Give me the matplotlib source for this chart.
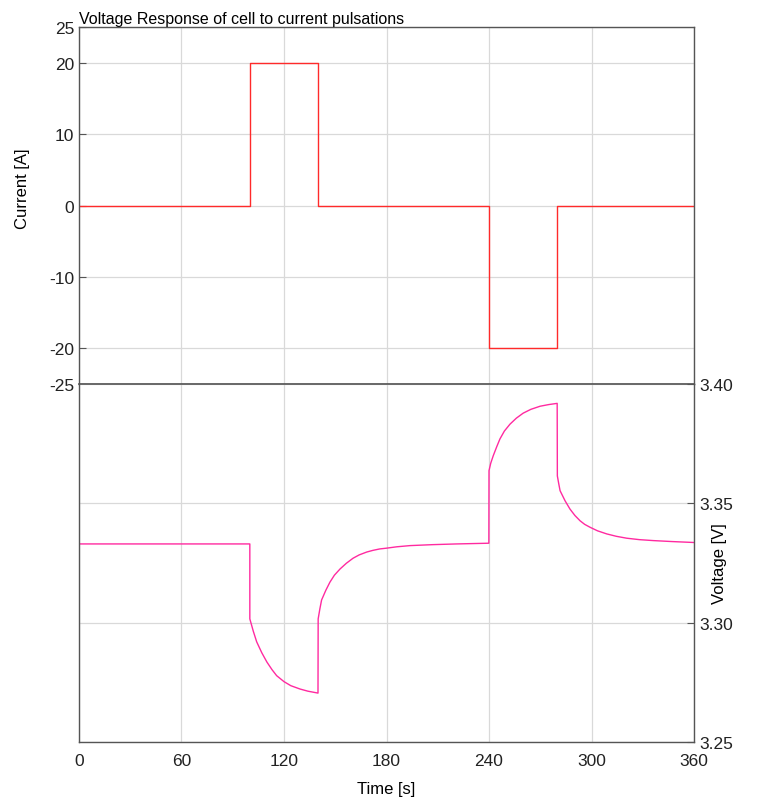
#!/usr/bin/env python3
"""Voltage response of a cell to current pulsations (two stacked panels)."""

import matplotlib

matplotlib.use("Agg")
import matplotlib.pyplot as plt

plt.rcParams["font.family"] = ["Liberation Sans", "DejaVu Sans"]

# Current profile (step pulses)
CUR_T = [0, 100, 100, 140, 140, 240, 240, 280, 280, 360]
CUR_A = [0, 0, 20, 20, 0, 0, -20, -20, 0, 0]

# Voltage response
VOLT_T = [0, 100, 100, 102, 104, 107, 110, 113, 115.7, 120, 124, 129.4, 134, 139.9,
          140, 141, 142, 144.5, 146.9, 149.5, 152.8, 156.5, 160.4, 164, 168.4, 172,
          176, 179.7, 186, 193.8, 207, 221, 239.9,
          240, 241, 242.5, 244.5, 246.4, 249, 252.3, 256, 260, 264.5, 269.9, 275, 279.9,
          280, 280.8, 281.6, 284.5, 287.4, 290.3, 293.3, 296, 299.1, 303.5, 308.9,
          314.5, 320.6, 328, 336.2, 347, 360]
VOLT_V = [3.333, 3.333, 3.3016, 3.2965, 3.292, 3.2874, 3.2835, 3.2803, 3.2778, 3.2753,
          3.2736, 3.2722, 3.2713, 3.2705,
          3.3016, 3.3058, 3.3095, 3.3136, 3.3170, 3.3199, 3.3225, 3.3249, 3.3270, 3.3284,
          3.3296, 3.3303, 3.3309, 3.3312, 3.3318, 3.3323, 3.3327, 3.3330, 3.3333,
          3.3637, 3.3668, 3.3700, 3.3737, 3.3770, 3.3803, 3.3832, 3.3857, 3.3878, 3.3894,
          3.3907, 3.3914, 3.3919,
          3.3615, 3.3583, 3.3553, 3.3511, 3.3476, 3.3449, 3.3427, 3.3412, 3.3400, 3.3385,
          3.3372, 3.3362, 3.3354, 3.3348, 3.3344, 3.3340, 3.3336]

X_TICKS = [0, 60, 120, 180, 240, 300, 360]
CUR_TICKS = [-25, -20, -10, 0, 10, 20, 25]
VOLT_TICKS = [3.25, 3.30, 3.35, 3.40]

GRID = "#d9d9d9"
FRAME = "#555555"


def style(ax):
    for s in ax.spines.values():
        s.set_color(FRAME)
        s.set_linewidth(1.0)
    ax.grid(True, color=GRID, linewidth=0.9)
    ax.set_axisbelow(True)
    ax.tick_params(direction="in", length=5, color=FRAME, labelsize=12.5,
                   labelcolor="#222222")


fig = plt.figure(figsize=(7.82, 8.03), dpi=100)
ax_top = fig.add_axes([0.101, 0.5205, 0.7865, 0.4445])
ax_bot = fig.add_axes([0.101, 0.0747, 0.7865, 0.4458], sharex=ax_top)

# ── Top: current ─────────────────────────────────────────────
ax_top.plot(CUR_T, CUR_A, color="#ff2a2a", linewidth=1.0)
ax_top.set_xlim(0, 360)
ax_top.set_ylim(-25, 25)
ax_top.set_xticks(X_TICKS)
ax_top.set_yticks(CUR_TICKS)
ax_top.set_yticklabels(["-25", "-20", "-10", "0", "10", "20", "25"])
style(ax_top)
ax_top.tick_params(axis="x", labelbottom=False, length=0)
ax_top.set_ylabel("Current [A]", fontsize=12)
ax_top.yaxis.set_label_coords(-0.08, 0.55)
ax_top.set_title("Voltage Response of cell to current pulsations",
                 loc="left", fontsize=11.5, pad=3)

# ── Bottom: voltage ──────────────────────────────────────────
ax_bot.plot(VOLT_T, VOLT_V, color="#ff2aa0", linewidth=1.0)
ax_bot.set_ylim(3.25, 3.40)
ax_bot.set_yticks(VOLT_TICKS)
ax_bot.set_yticklabels(["3.25", "3.30", "3.35", "3.40"])
style(ax_bot)
ax_bot.yaxis.tick_right()
ax_bot.yaxis.set_label_position("right")
ax_bot.tick_params(axis="x", length=0, pad=8)
ax_bot.set_ylabel("Voltage [V]", fontsize=12)
ax_bot.yaxis.set_label_coords(1.03, 0.5)
ax_bot.set_xlabel("Time [s]", fontsize=12, labelpad=9)
ax_bot.spines["top"].set_linewidth(1.2)

fig.savefig("out.png", dpi=100)
